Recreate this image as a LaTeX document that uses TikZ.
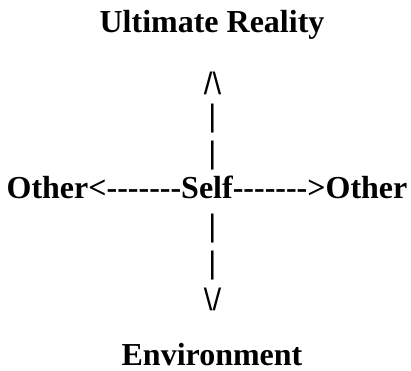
\documentclass[tikz,border=0pt]{standalone}
\usepackage{fontspec}
\setmainfont{Liberation Serif}
\newfontfamily\artfont{Liberation Sans}
\usepackage{tikz}
\usetikzlibrary{positioning}
\newcommand{\dashrun}{-{}-{}-{}-{}-{}-{}-}
\tikzset{
  heading/.style={inner sep=0pt, anchor=base,
    font=\fontsize{32}{38}\selectfont\bfseries},
  stroke/.style={inner sep=0pt, anchor=base,
    font=\fontsize{31}{37}\selectfont\artfont}
}
\begin{document}
\begin{tikzpicture}[x=1pt, y=1pt]
  \useasboundingbox (0,0) rectangle (411,370);

  % Top and bottom labels
  \node[heading] (reality) at (212,337) {Ultimate Reality};
  \node[heading] (env) at (212,5) {Environment};

  % Middle line
  \node[heading] (self) at (207,172) {Other<\dashrun Self\dashrun >Other};

  % Vertical axis drawn with characters
  \node[stroke] (up) at (212.5,275) {/\textbackslash};
  \node[stroke] (barA) at (212.5,243.7) {|};
  \node[stroke] (barB) at (212.5,206.7) {|};
  \node[stroke] (barC) at (212.5,133.7) {|};
  \node[stroke] (barD) at (212.5,96.7) {|};
  \node[stroke] (down) at (212.5,60) {\textbackslash/};
\end{tikzpicture}
\end{document}
